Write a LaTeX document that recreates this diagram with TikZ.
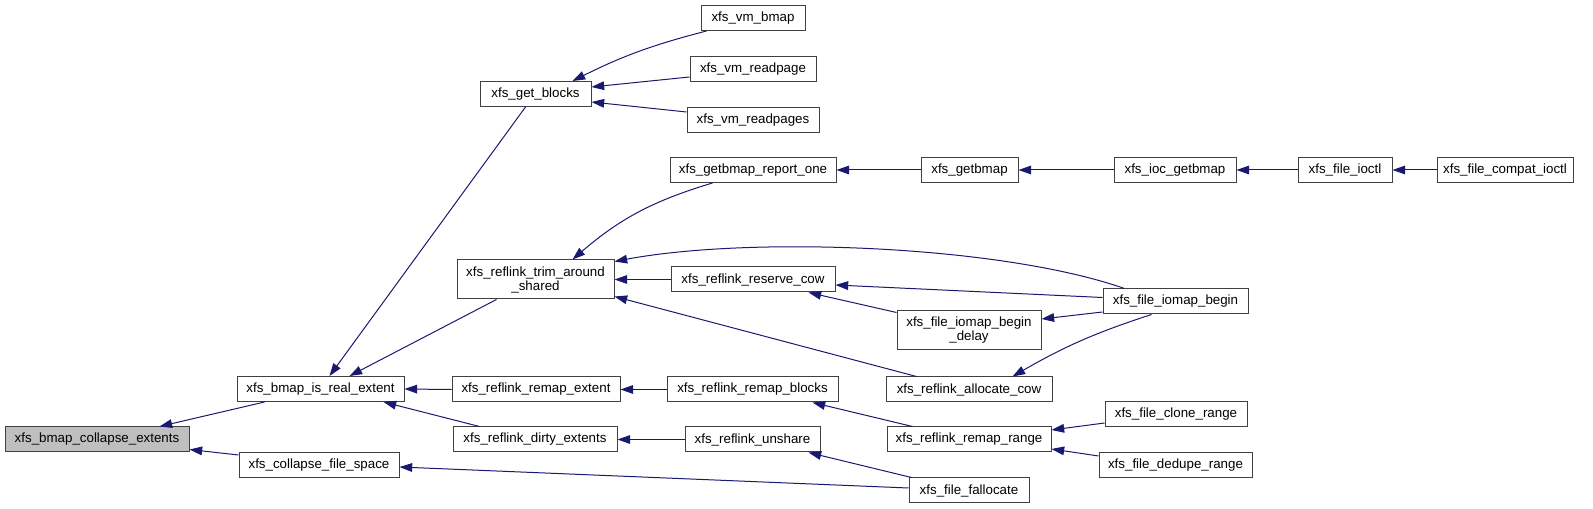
\documentclass[tikz,border=0pt]{standalone}
\usepackage{fontspec}
\setmainfont{Liberation Sans}
\usetikzlibrary{arrows.meta,calc}
\definecolor{edgeblue}{HTML}{191970}
\definecolor{rootgray}{HTML}{BFBFBF}

\begin{document}
\begin{tikzpicture}[
    x=0.75pt, y=-0.75pt,
    font=\fontsize{10}{10.5}\selectfont,
    fn/.style={draw=black!75, line width=0.75pt, fill=white, inner sep=0pt,
               minimum height=18.75pt, align=center},
    twoline/.style={minimum height=29.25pt},
    root/.style={fn, fill=rootgray},
    call/.style={-{Triangle[length=9.5pt,width=6.5pt]}, draw=edgeblue, line width=0.75pt}
]
    \useasboundingbox (0,0) rectangle (1593,509);

    % functions
    \node[root, minimum width=138pt] (collapse) at (97,439.5) {xfs\_bmap\_collapse\_extents};
    \node[fn, minimum width=125.25pt] (isreal) at (320.5,389) {xfs\_bmap\_is\_real\_extent};
    \node[fn, minimum width=120pt] (cspace) at (319,465) {xfs\_collapse\_file\_space};
    \node[fn, minimum width=83.25pt] (getblocks) at (535.5,94) {xfs\_get\_blocks};
    \node[fn, minimum width=78pt] (vmbmap) at (753,18) {xfs\_vm\_bmap};
    \node[fn, minimum width=94.5pt] (readpage) at (753,69.5) {xfs\_vm\_readpage};
    \node[fn, minimum width=99pt] (readpages) at (753,120) {xfs\_vm\_readpages};
    \node[fn, twoline, minimum width=117.75pt] (trim) at (535.5,279.5) {xfs\_reflink\_trim\_around\\\_shared};
    \node[fn, minimum width=124.5pt] (report) at (753,170) {xfs\_getbmap\_report\_one};
    \node[fn, minimum width=123pt] (rcow) at (753,279.5) {xfs\_reflink\_reserve\_cow};
    \node[fn, minimum width=126pt] (rextent) at (536,389.5) {xfs\_reflink\_remap\_extent};
    \node[fn, minimum width=123pt] (dirty) at (535,439.5) {xfs\_reflink\_dirty\_extents};
    \node[fn, minimum width=128.25pt] (rblocks) at (752.5,389.5) {xfs\_reflink\_remap\_blocks};
    \node[fn, minimum width=101.25pt] (unshare) at (752.5,439.5) {xfs\_reflink\_unshare};
    \node[fn, minimum width=72.75pt] (getbmap) at (969.5,170) {xfs\_getbmap};
    \node[fn, minimum width=91.5pt] (ioc) at (1175,170) {xfs\_ioc\_getbmap};
    \node[fn, minimum width=70.5pt] (ioctl) at (1345,170) {xfs\_file\_ioctl};
    \node[fn, minimum width=102pt] (compat) at (1505,170) {xfs\_file\_compat\_ioctl};
    \node[fn, minimum width=108.75pt] (iomap) at (1175.5,301.5) {xfs\_file\_iomap\_begin};
    \node[fn, twoline, minimum width=108pt] (delay) at (969,330.5) {xfs\_file\_iomap\_begin\\\_delay};
    \node[fn, minimum width=124.5pt] (alloccow) at (969,389.5) {xfs\_reflink\_allocate\_cow};
    \node[fn, minimum width=123pt] (rrange) at (969,439.5) {xfs\_reflink\_remap\_range};
    \node[fn, minimum width=106.5pt] (clone) at (1176,414.5) {xfs\_file\_clone\_range};
    \node[fn, minimum width=114.75pt] (dedupe) at (1175.5,465.5) {xfs\_file\_dedupe\_range};
    \node[fn, minimum width=90pt] (falloc) at (969,490.5) {xfs\_file\_fallocate};

    % callers -> callees
    \draw[call] ($(isreal.south west)+(28,0)$) -- ($(collapse.north west)+(155,0)$);
    \draw[call] ($(cspace.north west)+(0,3)$) -- ($(collapse.south east)+(0,-3)$);
    \draw[call] ($(getblocks.south west)+(46,0)$) -- ($(isreal.north west)+(93,0)$);
    \draw[call] ($(trim.south west)+(40,0)$) -- ($(isreal.north west)+(113,0)$);
    \draw[call] (rextent.west) -- (isreal.east);
    \draw[call] ($(dirty.north west)+(27,0)$) -- ($(isreal.south east)+(-21,0)$);
    \draw[call] ($(vmbmap.south west)+(6,0)$) to[bend right=6] ($(getblocks.north west)+(93,0)$);
    \draw[call] ($(readpage.west)+(0,7.5)$) -- ($(getblocks.east)+(0,-7)$);
    \draw[call] ($(readpages.west)+(0,-8)$) -- ($(getblocks.east)+(0,8)$);
    \draw[call] ($(report.south west)+(43,0)$) to[bend right=12] ($(trim.north west)+(116,0)$);
    \draw[call] (rcow.west) -- (trim.east);
    \draw[call] ($(iomap.north west)+(22,0)$) .. controls (1000,245) and (750,236) .. ($(trim.north east)+(0,2)$);
    \draw[call] ($(alloccow.north west)+(31,0)$) -- ($(trim.south east)+(0,-3)$);
    \draw[call] ($(iomap.west)+(0,-4)$) -- ($(rcow.east)+(0,5.5)$);
    \draw[call] ($(delay.north west)+(0,2)$) -- ($(rcow.south east)+(-27,0)$);
    \draw[call] ($(iomap.west)+(0,10.5)$) -- ($(delay.east)+(0,-11.5)$);
    \draw[call] ($(iomap.south west)+(49,0)$) to[bend right=6] ($(alloccow.north west)+(127,0)$);
    \draw[call] (getbmap.west) -- (report.east);
    \draw[call] (ioc.west) -- (getbmap.east);
    \draw[call] (ioctl.west) -- (ioc.east);
    \draw[call] (compat.west) -- (ioctl.east);
    \draw[call] (rblocks.west) -- (rextent.east);
    \draw[call] ($(rrange.north west)+(26,0)$) -- ($(rblocks.south east)+(-26,0)$);
    \draw[call] (unshare.west) -- (dirty.east);
    \draw[call] ($(falloc.north west)+(3,0)$) -- ($(unshare.south east)+(-12,0)$);
    \draw[call] ($(falloc.west)+(0,-2.5)$) -- ($(cspace.east)+(0,2)$);
    \draw[call] ($(clone.west)+(0,8.5)$) -- ($(rrange.east)+(0,-9.5)$);
    \draw[call] ($(dedupe.west)+(0,-9.5)$) -- ($(rrange.east)+(0,9.5)$);
\end{tikzpicture}
\end{document}
